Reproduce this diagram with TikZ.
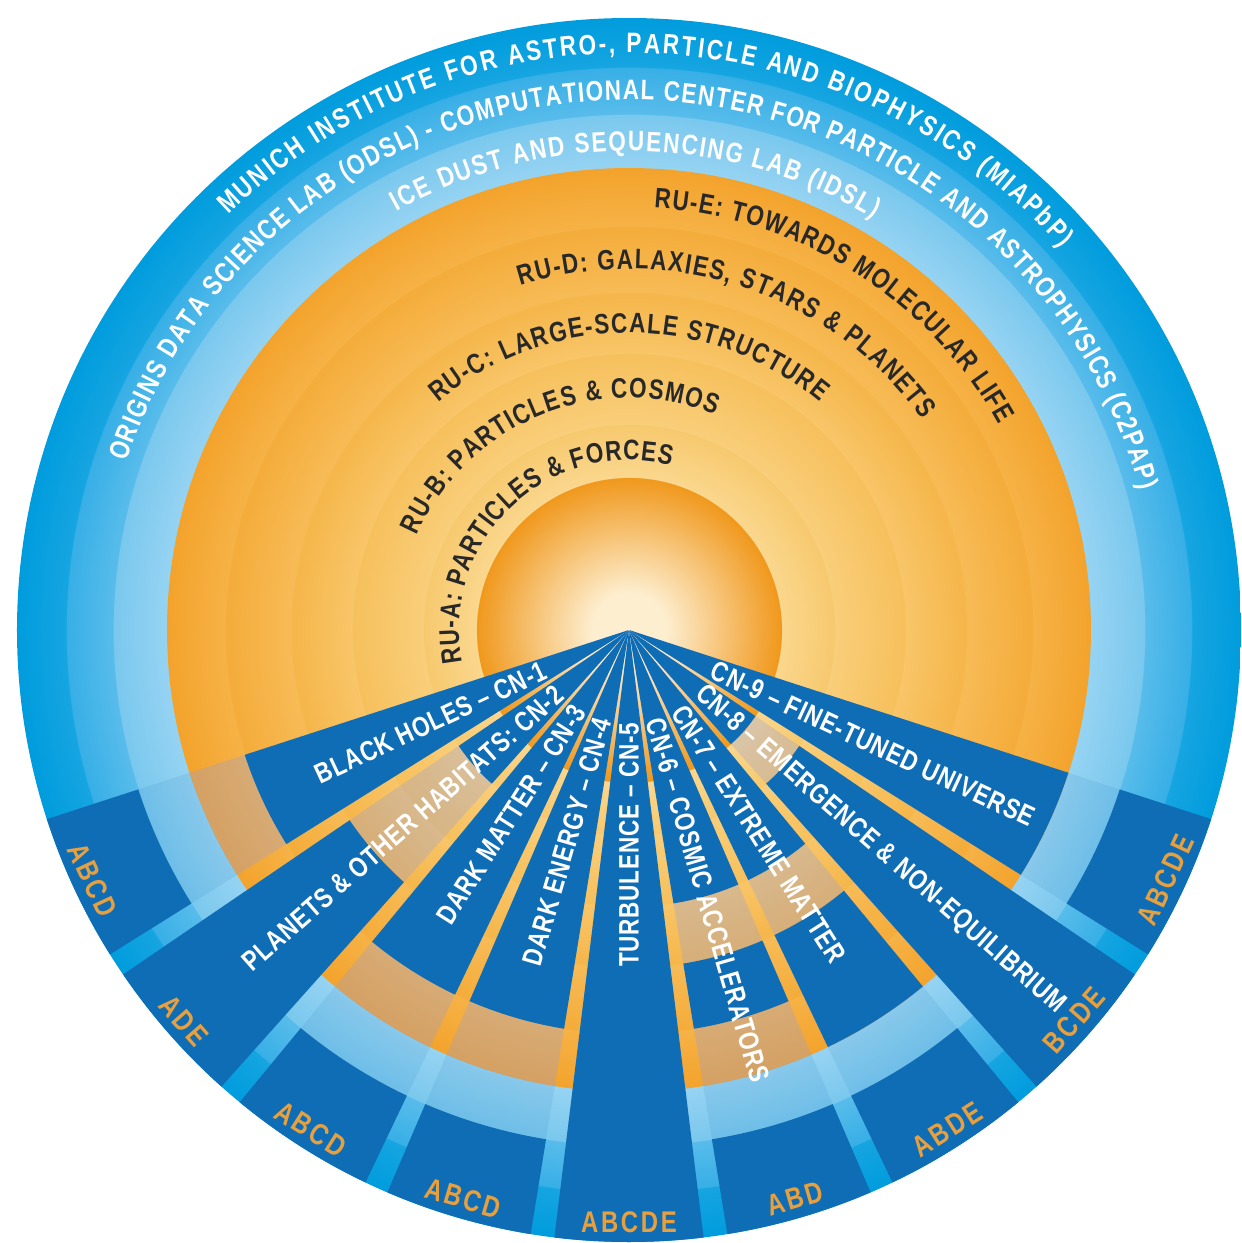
\documentclass[tikz,border=0pt]{standalone}
\usepackage{fontspec}
\newfontfamily\cnfont{Liberation Sans}[FakeStretch=0.8,LetterSpace=3]
\newfontfamily\tagfont{Liberation Sans}[FakeStretch=0.8,LetterSpace=9]
\newfontfamily\arcfont{Liberation Sans}[FakeStretch=0.8]
\tikzset{>=latex}
\usetikzlibrary{decorations.text}

% Couleurs / Colours
\definecolor{cnblue}{RGB}{15,109,181}
\definecolor{cnoffc}{RGB}{144,157,229}
\definecolor{rutext}{RGB}{40,40,40}
\definecolor{taglbl}{RGB}{232,160,62}
\definecolor{core0}{RGB}{253,238,208}
\definecolor{core1}{RGB}{240,152,28}
\definecolor{ruA1}{RGB}{250,215,142}
\definecolor{ruA0}{RGB}{247,201,110}
\definecolor{ruB1}{RGB}{249,206,122}
\definecolor{ruB0}{RGB}{246,192,92}
\definecolor{ruC1}{RGB}{248,197,104}
\definecolor{ruC0}{RGB}{245,182,74}
\definecolor{ruD1}{RGB}{247,187,86}
\definecolor{ruD0}{RGB}{244,172,58}
\definecolor{ruE1}{RGB}{246,178,70}
\definecolor{ruE0}{RGB}{243,163,44}
\definecolor{idsl1}{RGB}{150,211,242}
\definecolor{idsl0}{RGB}{122,200,238}
\definecolor{odsl1}{RGB}{88,188,235}
\definecolor{odsl0}{RGB}{55,175,230}
\definecolor{mia1}{RGB}{22,165,225}
\definecolor{mia0}{RGB}{0,156,221}

% Degrades radiaux des anneaux (bord du disque = 25bp)
% Radial shadings of the rings (edge of the disc = 25bp)
\pgfdeclareradialshading{bluerings}{\pgfpoint{0bp}{0bp}}{%
  color(0bp)=(idsl1); color(18.88bp)=(idsl1); color(21.05bp)=(idsl0);
  color(21.08bp)=(odsl1); color(22.97bp)=(odsl0);
  color(23bp)=(mia1); color(25bp)=(mia0); color(50bp)=(mia0)}
\pgfdeclareradialshading{orangerings}{\pgfpoint{0bp}{0bp}}{%
  color(0bp)=(core0); color(2bp)=(core0); color(8.25bp)=(core1);
  color(8.28bp)=(ruA1); color(11.12bp)=(ruA0);
  color(11.15bp)=(ruB1); color(14.96bp)=(ruB0);
  color(14.99bp)=(ruC1); color(18.26bp)=(ruC0);
  color(18.29bp)=(ruD1); color(21.83bp)=(ruD0);
  color(21.86bp)=(ruE1); color(25bp)=(ruE0); color(50bp)=(ruE0)}

\tikzset{
  cnon/.style={fill=cnblue},
  cnoff/.style={fill=cnoffc, fill opacity=0.3},
  cnoffb/.style={fill=cnblue, fill opacity=0.1},
  cnlabel/.style={font=\cnfont\bfseries\fontsize{8}{9}\selectfont, text=white, inner sep=0pt},
  taglabel/.style={font=\tagfont\bfseries\fontsize{8.5}{9}\selectfont, text=taglbl, inner sep=0pt}
}

% Secteur d'un reseau / Sector of one network: [style]{angle}{r in}{r out}
\newcommand{\cnseg}[4][cnon]{%
  \fill[#1] ({#2-7}:#3) arc[start angle={#2-7}, end angle={#2+7}, radius=#3]
    -- ({#2+7}:#4) arc[start angle={#2+7}, end angle={#2-7}, radius=#4] -- cycle;}

% Texte sur un arc / Text along an arc: {colour}{start}{end}{radius}{text}
\newcommand{\arctext}[5]{%
  \path[decorate, decoration={text along path, text align={fit to path},
    text={|\arcfont\bfseries\fontsize{8}{9}\selectfont\color{#1}|#5}}]
    (#2:#4) arc[start angle=#2, end angle=#3, radius=#4];}

\begin{document}
\begin{tikzpicture}

% Zone de dessin / Drawing area (1 px = 0.01 cm, centre du disque a l'origine)
\fill[white] (-6.29,-6.13) rectangle (6.13,6.30);
\useasboundingbox (-6.29,-6.13) rectangle (6.13,6.30);

% Anneaux bleus et orange / Blue and orange rings
\shade[shading=bluerings] (0,0) circle (6.12);
\shade[shading=orangerings] (0,0) circle (4.62);

% Etiquettes des anneaux / Ring labels
\arctext{white}{134}{41.4}{5.77}{MUNICH INSTITUTE FOR ASTRO-, PARTICLE AND BIOPHYSICS (MIAPbP)}
\arctext{white}{161.5}{15.3}{5.30}{ORIGINS DATA SCIENCE LAB (ODSL) - COMPUTATIONAL CENTER FOR PARTICLE AND ASTROPHYSICS (C2PAP)}
\arctext{white}{119}{59.3}{4.79}{ICE DUST AND SEQUENCING LAB (IDSL)}
\arctext{rutext}{86.6}{29}{4.23}{RU-E: TOWARDS MOLECULAR LIFE}
\arctext{rutext}{107.5}{35.7}{3.61}{RU-D: GALAXIES, STARS {\&} PLANETS}
\arctext{rutext}{130}{50}{2.97}{RU-C: LARGE-SCALE STRUCTURE}
\arctext{rutext}{156}{68}{2.32}{RU-B: PARTICLES {\&} COSMOS}
\arctext{rutext}{191}{75.7}{1.70}{RU-A: PARTICLES {\&} FORCES}

% Reseaux CN-1 a CN-9 / Networks CN-1 to CN-9
\foreach \a in {205,221.25,237.5,253.75,270,286.25,302.5,318.75,335}{
  \cnseg[cnoff]{\a}{0.01}{4.62}
  \cnseg[cnoffb]{\a}{4.62}{6.12}
}
\foreach \a/\ri/\ro in {205/0.01/4.04, 205/5.16/6.12,
    221.25/0.01/2.06, 221.25/3.38/6.12,
    237.5/0.01/4.04, 237.5/5.16/6.12,
    253.75/0.01/4.04, 253.75/5.16/6.12,
    270/0.01/6.12,
    286.25/0.01/2.77, 286.25/3.38/4.04, 286.25/5.16/6.12,
    302.5/0.01/2.77, 302.5/3.38/4.62, 302.5/5.16/6.12,
    318.75/0.01/1.53, 318.75/2.06/6.12,
    335/0.01/4.62, 335/5.16/6.12}
  \cnseg{\a}{\ri}{\ro};

% Noms des reseaux / Network names
\node[cnlabel, anchor=east, rotate=25] (cn1) at (205:0.92) {BLACK HOLES – CN-1};
\node[cnlabel, anchor=east, rotate=41.25] (cn2) at (221.25:0.92) {PLANETS \& OTHER HABITATS: CN-2};
\node[cnlabel, anchor=east, rotate=57.5] (cn3) at (237.5:0.92) {DARK MATTER – CN-3};
\node[cnlabel, anchor=east, rotate=73.75] (cn4) at (253.75:0.92) {DARK ENERGY – CN-4};
\node[cnlabel, anchor=east, rotate=90] (cn5) at (270:0.92) {TURBULENCE – CN-5};
\node[cnlabel, anchor=west, rotate=-73.75] (cn6) at (286.25:0.92) {CN-6 – COSMIC ACCELERATORS};
\node[cnlabel, anchor=west, rotate=-57.5] (cn7) at (302.5:0.92) {CN-7 – EXTREME MATTER};
\node[cnlabel, anchor=west, rotate=-41.25] (cn8) at (318.75:0.92) {CN-8 – EMERGENCE \& NON-EQUILIBRIUM};
\node[cnlabel, anchor=west, rotate=-25] (cn9) at (335:0.92) {CN-9 – FINE-TUNED UNIVERSE};

% Unites de recherche impliquees / Research units involved
\foreach \a/\lbl [count=\k] in {205/ABCD, 221.25/ADE, 237.5/ABCD, 253.75/ABCD, 270/ABCDE,
    286.25/ABD, 302.5/ABDE, 318.75/BCDE, 335/ABCDE}
  \node[taglabel, rotate=\a+90] (tag\k) at (\a:5.92) {\lbl};

\end{tikzpicture}
\end{document}
